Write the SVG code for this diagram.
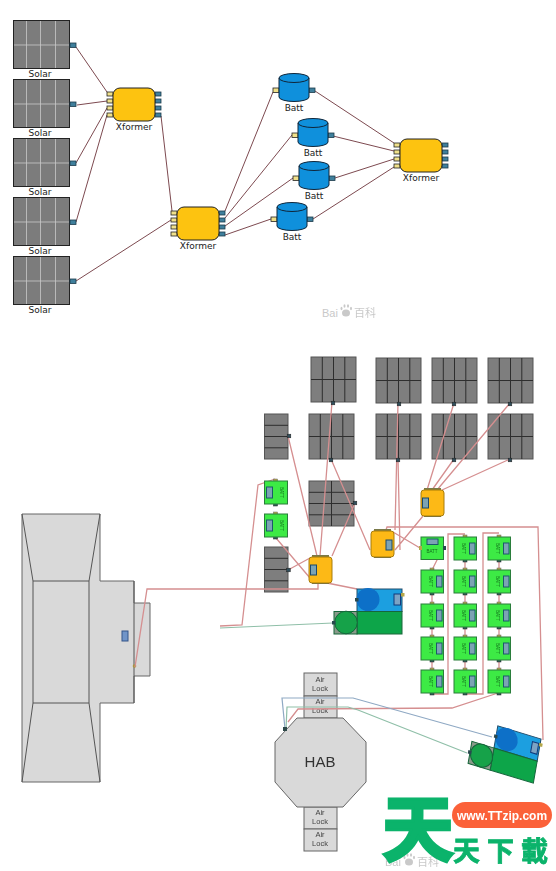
<svg xmlns="http://www.w3.org/2000/svg" width="556" height="871" viewBox="0 0 556 871">
<style>
.lblb{font-family:"DejaVu Sans",sans-serif;font-size:9px;fill:#222;text-anchor:middle}
.w1{fill:none;stroke:#7d4a50;stroke-width:1}
.w2{fill:none;stroke:#d58f90;stroke-width:1.3}
.wb{fill:none;stroke:#8fa9c4;stroke-width:1.2}
.wg{fill:none;stroke:#8fbfa8;stroke-width:1.2}
.in{fill:#f0e08a;stroke:#222;stroke-width:.8}
.out{fill:#3f7f9c;stroke:#1c3a4a;stroke-width:.8}
.hull{fill:#d9d9d9;stroke:#666;stroke-width:1}
.al{fill:#d9d9d9;stroke:#666;stroke-width:1}
.air{font-family:"Liberation Sans",Arial,sans-serif;font-size:7.5px;fill:#444;text-anchor:middle}
.tiny{font-family:"Liberation Sans",Arial,sans-serif;font-size:4.5px;fill:#14701e;text-anchor:middle}
.tinyy{font-family:"Liberation Sans",Arial,sans-serif;font-size:4px;fill:#7a5a10;text-anchor:middle}
.bai{font-family:"Liberation Sans",Arial,sans-serif;font-size:11px;fill:#c9c9c9}
.baic{font-family:"Liberation Sans","Noto Sans CJK SC",sans-serif;font-size:11px;fill:#c9c9c9}
.green{font-family:"Liberation Sans","Noto Sans CJK SC",sans-serif;font-weight:700;fill:#0bb36b;stroke:#0bb36b}
</style>
<defs>
<filter id="soft" x="-5%" y="-5%" width="110%" height="110%"><feGaussianBlur stdDeviation="0.45"/></filter>
<g id="solar">
<rect x=".5" y=".5" width="56" height="48" fill="#7c7c7c" stroke="#222"/>
<path d="M13.5 1V48M27.5 1V48M42.5 1V48M1 25H56" stroke="#c9c9c9" stroke-width=".8" fill="none"/>
<rect x="57" y="23" width="6" height="4.5" class="out"/>
</g>
<g id="xf">
<rect x="-6" y="4" width="6" height="4" class="in"/><rect x="-6" y="11" width="6" height="4" class="in"/><rect x="-6" y="18" width="6" height="4" class="in"/><rect x="-6" y="25" width="6" height="4" class="in"/>
<rect x="42" y="4" width="6" height="4" class="out"/><rect x="42" y="11" width="6" height="4" class="out"/><rect x="42" y="18" width="6" height="4" class="out"/><rect x="42" y="25" width="6" height="4" class="out"/>
<rect x="0" y="0" width="42" height="33" rx="7" fill="#fdc310" stroke="#222"/>
</g>
<g id="cyl">
<rect x="-6" y="15" width="6" height="4.5" class="in"/><rect x="30" y="15" width="6" height="4.5" class="out"/>
<path d="M0 5V24A15 4.5 0 0 0 30 24V5A15 4.5 0 0 0 0 5Z" fill="#0f90dc" stroke="#10263a"/>
<path d="M0 5A15 4.5 0 0 0 30 5" fill="none" stroke="#10263a"/>
</g>
<g id="p42">
<rect width="45" height="45" fill="#7e7e7e" stroke="#555"/>
<path d="M11.3 0V45M22.5 0V45M33.8 0V45M0 22.5H45" stroke="#2e2e2e" fill="none"/>
</g>
<g id="p14">
<rect width="23.500" height="45" fill="#7e7e7e" stroke="#555"/>
<path d="M0 11.300H23.500M0 22.500H23.500M0 33.800H23.500" stroke="#2e2e2e" fill="none"/>
</g>
<g id="p24">
<rect width="45" height="45" fill="#7e7e7e" stroke="#555"/>
<path d="M22.500 0V45M0 11.300H45M0 22.500H45M0 33.800H45" stroke="#2e2e2e" fill="none"/>
</g>
<rect id="pin" x="-1.800" y="-1.800" width="3.600" height="3.600" fill="#33505c" stroke="#222" stroke-width=".5"/>
<g id="battv">
<rect x="9" y="-2" width="4" height="3" fill="#b5a84a" stroke="#666" stroke-width=".5"/>
<rect x="9" y="22" width="4" height="3" fill="#33605c" stroke="#222" stroke-width=".5"/>
<rect width="22.500" height="23" fill="#3dea45" stroke="#2b7d3a"/>
<rect x="15.500" y="6" width="5.500" height="11" fill="#7ba3b4" stroke="#1c5a6a"/>
<text class="tiny" transform="translate(7.500 11.500) rotate(90)">BATT</text>
</g>
<g id="batvl">
<rect x="9" y="-2" width="4" height="3" fill="#b5a84a" stroke="#666" stroke-width=".5"/>
<rect x="9" y="22" width="4" height="3" fill="#33605c" stroke="#222" stroke-width=".5"/>
<rect width="23" height="23" fill="#3dea45" stroke="#2b7d3a"/>
<rect x="2" y="6" width="6" height="11" fill="#7ba3b4" stroke="#1c5a6a"/>
<text class="tiny" transform="translate(15 11.500) rotate(90)">BATT</text>
</g>
<g id="bigbat">
<rect x="23" y="0" width="45" height="22.500" fill="#1e9fe0" stroke="#1e4a6a"/>
<circle cx="34" cy="10.500" r="11.500" fill="#0f6fc8"/>
<rect x="60" y="5" width="6.500" height="11" fill="#7ba3c4" stroke="#123a7a"/>
<rect x="21" y="9" width="3.500" height="3.500" fill="#2b4a50"/>
<rect x="67" y="4" width="3.500" height="3.500" fill="#b5a84a"/>
<rect x="23" y="22.500" width="45" height="22.500" fill="#11a54a" stroke="#14663a"/>
<rect x="0" y="22.500" width="23" height="22.500" fill="#8a9a8a" stroke="#14663a"/>
<circle cx="12" cy="33.500" r="11.300" fill="#14a24a" stroke="#14663a"/>
<rect x="-2" y="32" width="3.500" height="3.500" fill="#2b4a50"/>
</g>
<g id="yf">
<rect x="3" y="-2" width="17" height="3" fill="#7a7a4a"/>
<rect x="3" y="24" width="17" height="3" fill="#5a6a5a"/>
<rect width="23" height="26" rx="3" fill="#fdb913" stroke="#a87c10"/>
</g>
<g id="paw" fill="#c9c9c9">
<ellipse cx="6" cy="7" rx="4" ry="3.500"/><ellipse cx="1.500" cy="2.500" rx="1" ry="1.800"/><ellipse cx="4.500" cy="0" rx="1" ry="1.800"/><ellipse cx="8" cy="0" rx="1" ry="1.800"/><ellipse cx="11" cy="2.500" rx="1" ry="1.800"/>
</g>
</defs>

<g id="connectors-top">
<path class="w1" d="M76 47L107 92M77 105L107 101M76 163L107 108M76 222L107 115M76 281L171 220M161 116L172 211M225 211L273 92M225 218L292 135M225 226L293 178M225 235L271 219M315 91L394 143M333 136L394 151M335 178L394 159M313 219L394 167"/>
</g>
<g id="solar1"><use href="#solar" x="13" y="20"/><text class="lblb" x="40" y="77">Solar</text></g>
<g id="solar2"><use href="#solar" x="13" y="79"/><text class="lblb" x="40" y="136">Solar</text></g>
<g id="solar3"><use href="#solar" x="13" y="138"/><text class="lblb" x="40" y="195">Solar</text></g>
<g id="solar4"><use href="#solar" x="13" y="197"/><text class="lblb" x="40" y="254">Solar</text></g>
<g id="solar5"><use href="#solar" x="13" y="256"/><text class="lblb" x="40" y="313">Solar</text></g>
<g id="xformer1"><use href="#xf" x="113" y="88"/><text class="lblb" x="134" y="130">Xformer</text></g>
<g id="xformer2"><use href="#xf" x="177" y="207"/><text class="lblb" x="198" y="249">Xformer</text></g>
<g id="xformer3"><use href="#xf" x="400" y="139"/><text class="lblb" x="421" y="181">Xformer</text></g>
<g id="batt1"><use href="#cyl" x="279" y="73"/><text class="lblb" x="294" y="111">Batt</text></g>
<g id="batt2"><use href="#cyl" x="298" y="118"/><text class="lblb" x="313" y="156">Batt</text></g>
<g id="batt3"><use href="#cyl" x="299" y="161"/><text class="lblb" x="314" y="199">Batt</text></g>
<g id="batt4"><use href="#cyl" x="277" y="202"/><text class="lblb" x="292" y="240">Batt</text></g>

<g id="plan" filter="url(#soft)">
<g id="lander">
<path class="hull" d="M22 514H100V581H134V603H150V676H134V703H100V782H22Z"/>
<path fill="none" stroke="#555" d="M33 581H89V703H33ZM22 514L33 581M100 514L89 581M22 782L33 703M100 782L89 703M134 581V703"/>
<rect x="122" y="631" width="6" height="10" fill="#6f94c8" stroke="#34558a"/>
<circle cx="134.500" cy="666" r="1.800" fill="#a8943a"/>
</g>

<g id="hab">
<rect class="al" x="304" y="673" width="33" height="23"/><rect class="al" x="304" y="696" width="33" height="22"/>
<rect class="al" x="304" y="807" width="33" height="22"/><rect class="al" x="304" y="829" width="33" height="22"/>
<text class="air"><tspan x="320" y="682">Air</tspan><tspan x="320" y="691">Lock</tspan></text>
<text class="air"><tspan x="320" y="704">Air</tspan><tspan x="320" y="713">Lock</tspan></text>
<text class="air"><tspan x="320" y="815">Air</tspan><tspan x="320" y="824">Lock</tspan></text>
<text class="air"><tspan x="320" y="837">Air</tspan><tspan x="320" y="846">Lock</tspan></text>
<path class="hull" d="M297 718H343L366 742V782L343 807H297L275 782V742Z"/>
<text x="320" y="767" font-family="'Liberation Sans',Arial,sans-serif" font-size="15" fill="#333" text-anchor="middle">HAB</text>
</g>

<g id="panels">
<use href="#p42" x="311" y="357"/><use href="#p42" x="376" y="358"/><use href="#p42" x="432" y="358"/><use href="#p42" x="488" y="358"/>
<use href="#p14" x="264.500" y="414"/><use href="#p42" x="309" y="414"/><use href="#p42" x="376" y="414"/><use href="#p42" x="432" y="414"/><use href="#p42" x="488" y="414"/>
<use href="#p24" x="309" y="481"/><use href="#p14" x="264.500" y="547"/>
</g>

<g id="connectors-plan">
<path class="w2" d="M332 402L320 556M331 459L370 550M288 436L317 556M355 503L332 556M398 403L395 530M398 459L400 550M454 403L427 490M454 459L432 490M510 403L437 490M510 459L442 490M423 516L395 550"/>
<path class="w2" d="M393 532L420 548M385 533L387 527H538L543 740M288 570L310 558M276 538L310 578M327 583L357 589"/>
<path class="w2" d="M135 667L147 589H318V583M220 626L242 625L258 485L275 479"/>
<path class="w2" d="M443 548L432 570M432 593V604M432 626V637M432 660V670M465 559V570M465 593V604M465 626V637M465 660V670M499 559V570M499 593V604M499 626V637M499 660V670"/>
<path class="w2" d="M432 694H448V534H465M465 694H483V533H499M498 693L452 708L298 709L288 722"/>
<path class="wb" d="M285 729L282 698H353L492 737"/>
<path class="wg" d="M286 729L287 707H348L358 710L467 753M220 628L333 623"/>
</g>
<rect id="hab-port" x="283" y="727" width="4" height="4" fill="#2f4a4a"/>

<g id="panel-pins">
<use href="#pin" x="333" y="403"/><use href="#pin" x="399" y="404"/><use href="#pin" x="454" y="404"/><use href="#pin" x="510" y="404"/>
<use href="#pin" x="289" y="436"/><use href="#pin" x="331" y="460"/><use href="#pin" x="398" y="460"/><use href="#pin" x="454" y="460"/><use href="#pin" x="510" y="460"/>
<use href="#pin" x="355" y="503"/><use href="#pin" x="288.500" y="570"/>
</g>
<g id="batt-a"><use href="#batvl" x="264.500" y="481"/></g>
<g id="batt-b"><use href="#batvl" x="264.500" y="514"/></g>
<g id="xf-a"><use href="#yf" x="421" y="490"/><rect x="422.500" y="498" width="6" height="10" fill="#7ba3b4" stroke="#1c4a6a"/></g>
<g id="xf-b"><use href="#yf" x="371" y="531"/><rect x="386" y="540" width="6" height="10" fill="#7ba3b4" stroke="#1c4a6a"/></g>
<g id="xf-c"><use href="#yf" x="309" y="557"/><rect x="310.500" y="565" width="6" height="10" fill="#7ba3b4" stroke="#1c4a6a"/></g>
<g id="power-1"><use href="#bigbat" x="334" y="589"/></g>
<g id="power-2"><use href="#bigbat" transform="matrix(.96 .29 -.17 .98 541 739) translate(-68 0)"/></g>

<g id="batt-grid">
<g id="batt-top"><rect x="421" y="537" width="22.500" height="22.500" fill="#3dea45" stroke="#2b7d3a"/><rect x="427" y="539" width="11" height="5.500" fill="#7ba3b4" stroke="#1c5a6a"/><text class="tiny" x="432" y="553">BATT</text><rect x="419" y="546" width="3" height="4" fill="#b5a84a"/><rect x="443" y="546" width="3" height="4" fill="#2b4a50"/></g>
<use href="#battv" x="421" y="570"/><use href="#battv" x="421" y="604"/><use href="#battv" x="421" y="637"/><use href="#battv" x="421" y="670"/>
<use href="#battv" x="454" y="537"/><use href="#battv" x="454" y="570"/><use href="#battv" x="454" y="604"/><use href="#battv" x="454" y="637"/><use href="#battv" x="454" y="670"/>
<use href="#battv" x="488" y="537"/><use href="#battv" x="488" y="570"/><use href="#battv" x="488" y="604"/><use href="#battv" x="488" y="637"/><use href="#battv" x="488" y="670"/>
</g>
</g>

<g id="watermarks">
<text class="bai" x="322" y="317">Bai</text><use href="#paw" x="340" y="306"/><text class="baic" x="354" y="317">百科</text>
<text class="bai" x="385" y="866">Bai</text><use href="#paw" x="403" y="855"/><text class="baic" x="417" y="866">百科</text>
</g>
<g id="logo">
<text class="green" x="382" y="855" font-size="72" stroke-width="3">天</text>
<rect x="452" y="802" width="100" height="26" rx="13" fill="#fb6139"/>
<text x="502" y="820" font-family="'Liberation Sans',Arial,sans-serif" font-weight="700" font-size="12" fill="#fff" text-anchor="middle">www.TTzip.com</text>
<text class="green" x="453" y="861" font-size="27" letter-spacing="7" stroke-width=".8">天下載</text>
</g>
</svg>
